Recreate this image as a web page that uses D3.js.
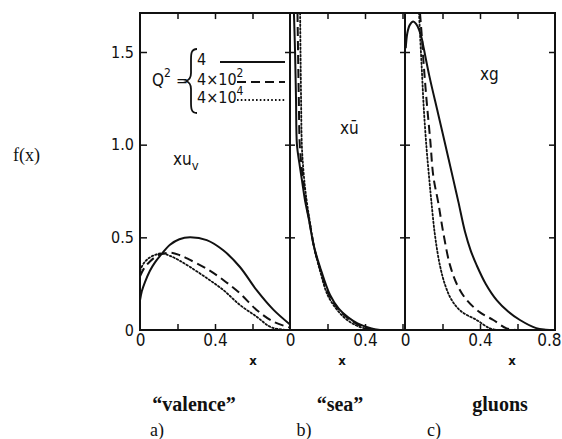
<!DOCTYPE html>
<html>
<head>
<meta charset="utf-8">
<script src="https://cdn.jsdelivr.net/npm/d3@7"></script>
<style>
  html, body { margin: 0; padding: 0; background: #fff; }
  svg { display: block; }
  .tick-lab { font-family: "DejaVu Sans", sans-serif; font-stretch: condensed; fill: #111; }
  .serif { font-family: "Liberation Serif", "Times New Roman", serif; fill: #111; }
</style>
</head>
<body>
<svg id="chart" width="562" height="439"></svg>
<script>
// ---- data: parton distributions x·f(x) for three Q² values ----
const q2Labels = ["4", "4×10", "4×10"];
const q2Powers = ["", "2", "4"];
const yTickValues = [0, 0.5, 1.0, 1.5];
const yTickLabels = ["0", "0.5", "1.0", "1.5"];

// valence  x·u_v
const valX_q4   = [0, 0.01, 0.027, 0.053, 0.08, 0.107, 0.16, 0.21, 0.267, 0.356, 0.444, 0.533, 0.622, 0.711, 0.8];
const valF_q4   = [0.16, 0.21, 0.26, 0.32, 0.365, 0.40, 0.46, 0.49, 0.50, 0.485, 0.43, 0.34, 0.215, 0.11, 0.03];
const valX_q400 = [0, 0.02, 0.053, 0.1, 0.16, 0.21, 0.267, 0.356, 0.444, 0.533, 0.622, 0.711, 0.8];
const valF_q400 = [0.29, 0.33, 0.37, 0.405, 0.417, 0.405, 0.378, 0.33, 0.27, 0.198, 0.108, 0.045, 0.013];
const valX_q4e4 = [0, 0.02, 0.05, 0.08, 0.116, 0.16, 0.21, 0.267, 0.356, 0.444, 0.533, 0.622, 0.693, 0.76, 0.8];
const valF_q4e4 = [0.32, 0.36, 0.39, 0.405, 0.414, 0.40, 0.375, 0.34, 0.28, 0.216, 0.135, 0.072, 0.018, 0.002, 0];

// sea  x·ū
const seaX_q4   = [0.021, 0.027, 0.032, 0.037, 0.05, 0.065, 0.08, 0.1, 0.128, 0.16, 0.213, 0.26, 0.31, 0.36, 0.43, 0.48];
const seaF_q4   = [1.71, 1.5, 1.25, 1.0, 0.9, 0.8, 0.7, 0.6, 0.45, 0.34, 0.19, 0.115, 0.068, 0.036, 0.01, 0];
const seaX_q400 = [0.04, 0.043, 0.047, 0.052, 0.062, 0.073, 0.085, 0.103, 0.13, 0.16, 0.21, 0.26, 0.31, 0.36, 0.41, 0.46];
const seaF_q400 = [1.71, 1.5, 1.25, 1.0, 0.88, 0.78, 0.69, 0.59, 0.44, 0.33, 0.185, 0.11, 0.063, 0.031, 0.011, 0];
const seaX_q4e4 = [0.054, 0.056, 0.059, 0.063, 0.07, 0.079, 0.09, 0.105, 0.13, 0.16, 0.2, 0.25, 0.3, 0.35, 0.4, 0.44];
const seaF_q4e4 = [1.71, 1.5, 1.25, 1.0, 0.88, 0.78, 0.69, 0.59, 0.44, 0.32, 0.19, 0.11, 0.058, 0.026, 0.008, 0];

// gluons  x·g
const gluX_q4   = [0.004, 0.012, 0.025, 0.044, 0.06, 0.075, 0.09, 0.1, 0.13, 0.176, 0.215, 0.258, 0.285, 0.32, 0.35, 0.382, 0.43, 0.49, 0.55, 0.613, 0.7, 0.75, 0.8];
const gluF_q4   = [1.52, 1.60, 1.645, 1.664, 1.65, 1.62, 1.57, 1.52, 1.37, 1.17, 1.0, 0.81, 0.69, 0.53, 0.43, 0.35, 0.25, 0.16, 0.1, 0.054, 0.01, 0.002, 0];
const gluX_q400 = [0.08, 0.09, 0.098, 0.115, 0.135, 0.151, 0.178, 0.205, 0.24, 0.28, 0.329, 0.4, 0.471, 0.542, 0.6];
const gluF_q400 = [1.71, 1.58, 1.457, 1.24, 1.02, 0.83, 0.684, 0.52, 0.35, 0.24, 0.162, 0.095, 0.054, 0.009, 0];
const gluX_q4e4 = [0.075, 0.08, 0.089, 0.1, 0.115, 0.128, 0.14, 0.16, 0.187, 0.215, 0.249, 0.3, 0.382, 0.453, 0.5];
const gluF_q4e4 = [1.71, 1.6, 1.42, 1.2, 0.98, 0.83, 0.70, 0.51, 0.345, 0.24, 0.162, 0.10, 0.054, 0.009, 0];

const yMax = 1.71;
const dashStyles = [null, "9,5", "1.6,2.2"];
const strokeWidths = [2.0, 2.0, 1.8];

// ---- layout ----
const svg = d3.select("#chart");
const y = d3.scaleLinear().domain([0, 1.5]).range([330, 52]);
const yTop = y(yMax);

const panels = [
  { id: "a", x: d3.scaleLinear().domain([0, 0.8]).range([140, 290]),
    xs: [valX_q4, valX_q400, valX_q4e4], fs: [valF_q4, valF_q400, valF_q4e4],
    xLabels: { 0: "0", 0.4: "0.4" }, name: "“valence”", tag: "a)", nameX: 194, tagX: 157, xTitle: 253 },
  { id: "b", x: d3.scaleLinear().domain([0, 115 / 187.5]).range([290, 405]),
    xs: [seaX_q4, seaX_q400, seaX_q4e4], fs: [seaF_q4, seaF_q400, seaF_q4e4],
    xLabels: { 0: "0", 0.4: "0.4" }, name: "“sea”", tag: "b)", nameX: 340, tagX: 304, xTitle: 342 },
  { id: "c", x: d3.scaleLinear().domain([0, 0.8]).range([405, 555]),
    xs: [gluX_q4, gluX_q400, gluX_q4e4], fs: [gluF_q4, gluF_q400, gluF_q4e4],
    xLabels: { 0: "0", 0.4: "0.4", 0.8: "0.8" }, name: "gluons", tag: "c)", nameX: 500, tagX: 434, xTitle: 512 }
];

const line = d3.line().curve(d3.curveCatmullRom.alpha(0.5));

panels.forEach(p => {
  const [x0, x1] = p.x.range();
  svg.append("clipPath").attr("id", "clip-" + p.id)
    .append("rect").attr("x", x0).attr("y", yTop).attr("width", x1 - x0).attr("height", y(0) - yTop);

  const g = svg.append("g").attr("clip-path", `url(#clip-${p.id})`);
  p.xs.forEach((xs, i) => {
    const pts = xs.map((xv, k) => [p.x(xv), y(p.fs[i][k])]);
    g.append("path")
      .attr("d", line(pts))
      .attr("fill", "none")
      .attr("stroke", "#111")
      .attr("stroke-width", strokeWidths[i])
      .attr("stroke-linecap", i === 2 ? "round" : "butt")
      .attr("stroke-dasharray", dashStyles[i]);
  });

  // bottom axis: inward ticks, sparse labels
  const tv = d3.range(0, p.x.domain()[1] + 1e-6, 0.2).map(v => +v.toFixed(1));
  const bottom = svg.append("g").attr("transform", `translate(0,${y(0)})`)
    .call(d3.axisBottom(p.x).tickValues(tv).tickSize(-6).tickPadding(6)
      .tickFormat(v => p.xLabels[v] !== undefined ? p.xLabels[v] : ""));
  bottom.select(".domain").remove();
  bottom.selectAll("line").attr("stroke", "#111").attr("stroke-width", 1.5)
    .filter(v => v === 0 || v >= 0.79).remove();
  bottom.selectAll("text").attr("class", "tick-lab").attr("font-size", 17).attr("dy", "0.6em")
    .filter(v => v >= 0.79).attr("text-anchor", "end").attr("dx", 6);

  // top axis: inward ticks, no labels
  const top = svg.append("g").attr("transform", `translate(0,${yTop})`)
    .call(d3.axisTop(p.x).tickValues(tv.filter(v => v > 0 && v < 0.79)).tickSize(-6).tickFormat(""));
  top.select(".domain").remove();
  top.selectAll("line").attr("stroke", "#111").attr("stroke-width", 1.5);

  // x title
  svg.append("text").attr("class", "tick-lab").attr("x", p.xTitle).attr("y", 365)
    .attr("text-anchor", "middle").attr("font-size", 13).attr("font-weight", "bold").text("x");
  // panel name and tag
  svg.append("text").attr("class", "serif").attr("x", p.nameX).attr("y", 411)
    .attr("text-anchor", "middle").attr("font-size", 20).attr("font-weight", "bold").text(p.name);
  svg.append("text").attr("class", "serif").attr("x", p.tagX).attr("y", 436)
    .attr("text-anchor", "middle").attr("font-size", 18).text(p.tag);
});

// frame lines
const frame = svg.append("g").attr("stroke", "#111").attr("stroke-width", 2).attr("fill", "none");
frame.append("line").attr("x1", 139).attr("x2", 556).attr("y1", yTop).attr("y2", yTop);
frame.append("line").attr("x1", 139).attr("x2", 556).attr("y1", y(0)).attr("y2", y(0));
[140, 290, 405, 555].forEach(xp =>
  frame.append("line").attr("x1", xp).attr("x2", xp).attr("y1", yTop).attr("y2", y(0)));

// left value axis of panel a
const left = svg.append("g").attr("transform", "translate(140,0)")
  .call(d3.axisLeft(y).tickValues(yTickValues).tickSize(-7).tickPadding(6)
    .tickFormat((v, i) => yTickLabels[i]));
left.select(".domain").remove();
left.selectAll("line").attr("stroke", "#111").attr("stroke-width", 1.5).filter(v => v === 0).remove();
left.selectAll("text").attr("class", "tick-lab").attr("font-size", 16);

// panel separators carry ticks on both sides
[290, 405].forEach(xp => {
  [-5, 5].forEach(s => {
    const a = svg.append("g").attr("transform", `translate(${xp},0)`)
      .call(d3.axisLeft(y).tickValues([0.5, 1.0, 1.5]).tickSize(s).tickFormat(""));
    a.select(".domain").remove();
    a.selectAll("line").attr("stroke", "#111").attr("stroke-width", 1.5);
  });
});
const right = svg.append("g").attr("transform", "translate(555,0)")
  .call(d3.axisRight(y).tickValues([0.5, 1.0, 1.5]).tickSize(-6).tickFormat(""));
right.select(".domain").remove();
right.selectAll("line").attr("stroke", "#111").attr("stroke-width", 1.5);

// y title
svg.append("text").attr("class", "serif").attr("x", 13).attr("y", 161)
  .attr("font-size", 18).text("f(x)");

// curve labels
const cl = svg.append("g").attr("class", "tick-lab").attr("font-size", 17);
cl.append("text").attr("x", 173).attr("y", 165).text("xu")
  .append("tspan").attr("font-size", 13).attr("dy", 5).text("v");
cl.append("text").attr("x", 340).attr("y", 134).text("xū");
cl.append("text").attr("x", 480).attr("y", 80).text("xg");

// legend
const lg = svg.append("g");
lg.append("text").attr("class", "tick-lab").attr("x", 152).attr("y", 86).attr("font-size", 17)
  .text("Q").append("tspan").attr("dy", -9).attr("font-size", 12).text("2");
lg.append("text").attr("class", "tick-lab").attr("x", 176).attr("y", 86).attr("font-size", 16).text("=");
lg.append("path")
  .attr("d", "M197,49 C191,49 191,54 191,60 L191,73 C191,78 189,80 186,81 C189,82 191,84 191,89 L191,102 C191,108 191,113 197,113")
  .attr("fill", "none").attr("stroke", "#111").attr("stroke-width", 1.8);
const rowsY = [65, 85, 103];
const lineStart = [220, 237, 237];
const lineYs = [62, 82, 100];
q2Labels.forEach((lab, i) => {
  const t = lg.append("text").attr("class", "tick-lab").attr("x", 197).attr("y", rowsY[i])
    .attr("font-size", 16).text(lab);
  if (q2Powers[i]) t.append("tspan").attr("dy", -8).attr("font-size", 12).text(q2Powers[i]);
  lg.append("line").attr("x1", lineStart[i]).attr("x2", 285).attr("y1", lineYs[i]).attr("y2", lineYs[i])
    .attr("stroke", "#111").attr("stroke-width", strokeWidths[i])
    .attr("stroke-dasharray", dashStyles[i]);
});
</script>
</body>
</html>
